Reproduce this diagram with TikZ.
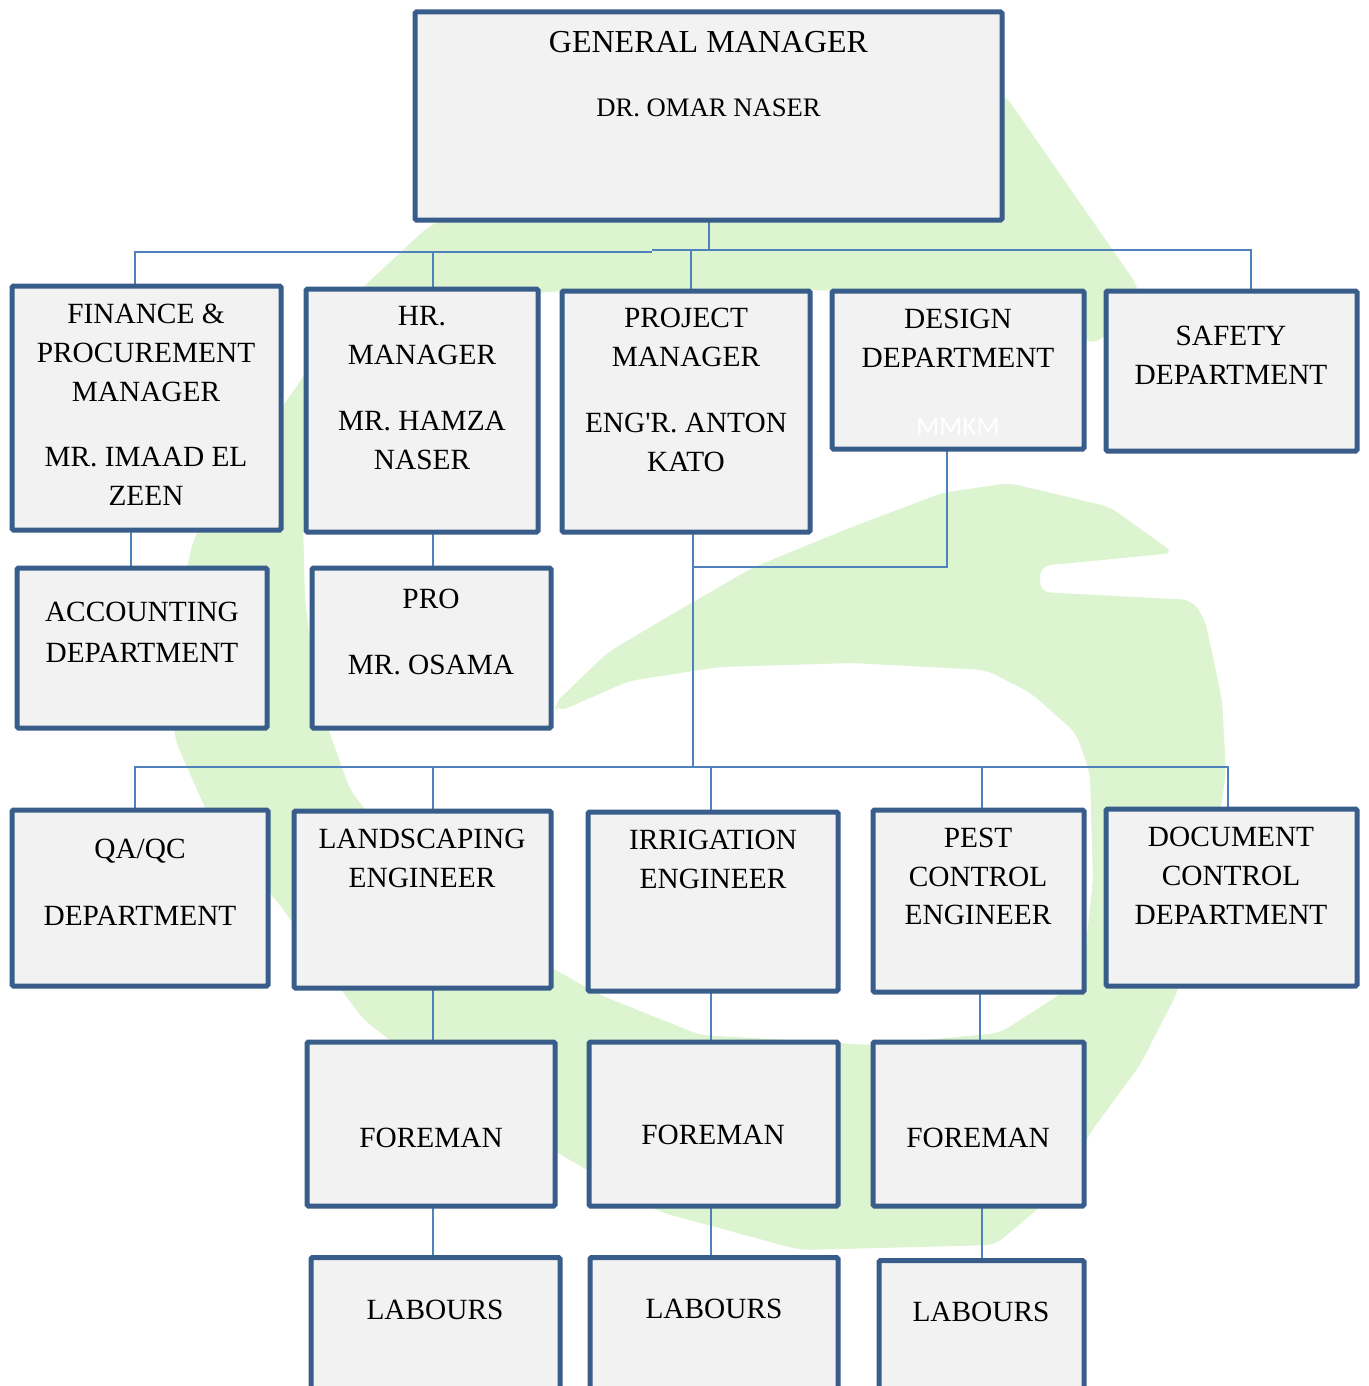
\documentclass[tikz,border=0pt]{standalone}
\usepackage{fontspec}
\setmainfont{Liberation Serif}
\newfontfamily\mmfont{Carlito}
\definecolor{boxline}{RGB}{56,93,138}
\definecolor{boxfill}{RGB}{242,242,242}
\definecolor{connc}{RGB}{79,129,189}
\definecolor{logoc}{RGB}{220,244,207}
\pgfdeclarelayer{bg}
\pgfdeclarelayer{lines}
\pgfsetlayers{bg,lines,main}
\begin{document}
\begin{tikzpicture}[x=1pt,y=-1pt,
  orgbox/.style={draw=boxline, line width=5pt, fill=boxfill, rounded corners=1.5pt, inner sep=0pt, outer sep=0pt},
  txt/.style={anchor=north, inner sep=0pt, outer sep=0pt, align=center, font=\fontsize{29.33}{39}\selectfont},
  link/.style={draw=connc, line width=2pt}]
\useasboundingbox (0,0) rectangle (1368,1386);
\clip (0,0) rectangle (1368,1386);

% ---- boxes ----
\node[orgbox, minimum width=587pt, minimum height=208pt] (gm) at (708.5,116) {};
\node[orgbox, minimum width=269pt, minimum height=244pt] (fin) at (146.5,408) {};
\node[orgbox, minimum width=232pt, minimum height=243pt] (hr) at (422,410.5) {};
\node[orgbox, minimum width=248pt, minimum height=241pt] (pm) at (686,411.5) {};
\node[orgbox, minimum width=252pt, minimum height=158pt] (des) at (958,370) {};
\node[orgbox, minimum width=251pt, minimum height=160pt] (saf) at (1231.5,371) {};
\node[orgbox, minimum width=250pt, minimum height=160pt] (acc) at (142,648) {};
\node[orgbox, minimum width=239pt, minimum height=160pt] (pro) at (431.5,648) {};
\node[orgbox, minimum width=256pt, minimum height=176pt] (qa) at (140,898) {};
\node[orgbox, minimum width=257pt, minimum height=177pt] (land) at (422.5,899.5) {};
\node[orgbox, minimum width=250pt, minimum height=179pt] (irr) at (713,901.5) {};
\node[orgbox, minimum width=211pt, minimum height=182pt] (pest) at (978.5,901) {};
\node[orgbox, minimum width=251pt, minimum height=177pt] (doc) at (1231.5,897.5) {};
\node[orgbox, minimum width=248pt, minimum height=164pt] (fa) at (431,1124) {};
\node[orgbox, minimum width=249pt, minimum height=164pt] (fb) at (713.5,1124) {};
\node[orgbox, minimum width=211pt, minimum height=164pt] (fc) at (978.5,1124) {};
\node[orgbox, minimum width=249pt, minimum height=201pt] (la) at (435.5,1358) {};
\node[orgbox, minimum width=248pt, minimum height=201pt] (lb) at (714,1358) {};
\node[orgbox, minimum width=205pt, minimum height=201pt] (lc) at (981.5,1361) {};

% ---- texts ----
\node[txt, font=\fontsize{32}{38}\selectfont] (gmt) at (708.5,31.4) {GENERAL MANAGER};
\node[txt, font=\fontsize{26.67}{32}\selectfont] (gmn) at (708.5,99.2) {DR. OMAR NASER};
\node[txt] (fint) at (146,304.3) {FINANCE \&\\PROCUREMENT\\MANAGER\\[26pt]MR. IMAAD EL\\ZEEN};
\node[txt] (hrt) at (422,306.3) {HR.\\MANAGER\\[27pt]MR. HAMZA\\NASER};
\node[txt] (pmt) at (686,308.3) {PROJECT\\MANAGER\\[27pt]ENG\textquotesingle R. ANTON\\KATO};
\node[txt] (dest) at (958,309.3) {DESIGN\\DEPARTMENT};
\node[anchor=base, inner sep=0pt, text=white, font=\mmfont\fontsize{27}{30}\selectfont] (mmkm) at (958,435) {MMKM};
\node[txt] (saft) at (1231,326.3) {SAFETY\\DEPARTMENT};
\node[txt] (acct) at (142,602.3) {ACCOUNTING\\[2pt]DEPARTMENT};
\node[txt] (prot) at (431,589.3) {PRO\\[27pt]MR. OSAMA};
\node[txt] (qat) at (140,839.3) {QA/QC\\[28pt]DEPARTMENT};
\node[txt] (landt) at (422,829.3) {LANDSCAPING\\ENGINEER};
\node[txt] (irrt) at (713,830.3) {IRRIGATION\\ENGINEER};
\node[txt] (pestt) at (978,828.3) {PEST\\[-0.5pt]CONTROL\\[-0.5pt]ENGINEER};
\node[txt] (doct) at (1231,827.3) {DOCUMENT\\CONTROL\\DEPARTMENT};
\node[txt] (fat) at (431,1128.3) {FOREMAN};
\node[txt] (fbt) at (713,1125.3) {FOREMAN};
\node[txt] (fct) at (978,1128.3) {FOREMAN};
\node[txt] (lat) at (435,1300.3) {LABOURS};
\node[txt] (lbt) at (714,1299.3) {LABOURS};
\node[txt] (lct) at (981,1302.3) {LABOURS};

% ---- connectors ----
\coordinate (busl) at (652,252);
\coordinate (busm) at (652,250);
\coordinate (busr) at (709,250);
\coordinate (bus2) at (693,767);
\coordinate (djoin) at (693,567);
\begin{pgfonlayer}{lines}
\draw[link] (gm.south) -- (gm.south |- busr);
\draw[link] ([xshift=-11.5pt]fin.north) |- (busl);
\draw[link] ([xshift=11pt]hr.north) |- (busl);
\draw[link] (busm) -- (busr);
\draw[link] ([xshift=5pt]pm.north) |- (busm);
\draw[link] ([xshift=19.5pt]saf.north) |- (busr);
\draw[link] ([xshift=-15.5pt]fin.south) -- ([xshift=-15.5pt]fin.south |- acc.north);
\draw[link] ([xshift=11pt]hr.south) -- ([xshift=11pt]hr.south |- pro.north);
\draw[link] ([xshift=7pt]pm.south) -- ([xshift=7pt]pm.south |- bus2);
\draw[link] ([xshift=-11pt]des.south) |- (djoin);
\draw[link] ([xshift=-5pt]qa.north) |- (bus2);
\draw[link] ([xshift=10.5pt]land.north) |- (bus2);
\draw[link] ([xshift=-2pt]irr.north) |- (bus2);
\draw[link] ([xshift=3.5pt]pest.north) |- (bus2);
\draw[link] ([xshift=-3.5pt]doc.north) |- (bus2);
\draw[link] ([xshift=10.5pt]land.south) -- ([xshift=10.5pt]land.south |- fa.north);
\draw[link] ([xshift=-2pt]irr.south) -- ([xshift=-2pt]irr.south |- fb.north);
\draw[link] ([xshift=1.5pt]pest.south) -- ([xshift=1.5pt]pest.south |- fc.north);
\draw[link] ([xshift=2pt]fa.south) -- ([xshift=2pt]fa.south |- la.north);
\draw[link] ([xshift=-2.5pt]fb.south) -- ([xshift=-2.5pt]fb.south |- lb.north);
\draw[link] ([xshift=3.5pt]fc.south) -- ([xshift=3.5pt]fc.south |- lc.north);
\end{pgfonlayer}

% ---- watermark ----
\begin{pgfonlayer}{bg}
\fill[white] (0,0) rectangle (1368,1386);
\fill[logoc, rounded corners=10pt]
 (1137,285) -- (1005,95) -- (900,45) -- (700,110) -- (520,190) -- (430,225) -- (360,290) -- (295,389)
 -- (235,470) -- (193,540) -- (170,650) -- (175,740) -- (215,830) -- (280,905) -- (330,975) -- (364,1020)
 -- (460,1095) -- (570,1160) -- (660,1212) -- (800,1250) -- (995,1245) -- (1060,1190) -- (1090,1133)
 -- (1140,1065) -- (1177,993) -- (1210,880) -- (1226,773) -- (1222,700) -- (1205,620) -- (1192,600)
 -- (1040,592) -- (1040,566) -- (1174,553) -- (1110,507) -- (1009,483) -- (942,493) -- (852,527)
 -- (754,567) -- (674,613) -- (607,653) -- (553,705) -- (558,712) -- (629,681) -- (719,667) -- (852,663)
 -- (986,670) -- (1031,693) -- (1076,733) -- (1090,773) -- (1093,880) -- (1082,980) -- (1000,1033)
 -- (870,1045) -- (700,1035) -- (600,995) -- (520,950) -- (420,880) -- (350,790) -- (318,700)
 -- (305,600) -- (303,520) -- (320,430) -- (380,350) -- (460,300) -- (560,291) -- (800,290)
 -- (1000,293) -- (1095,345) -- (1140,300) -- cycle;
\end{pgfonlayer}
\end{tikzpicture}
\end{document}
